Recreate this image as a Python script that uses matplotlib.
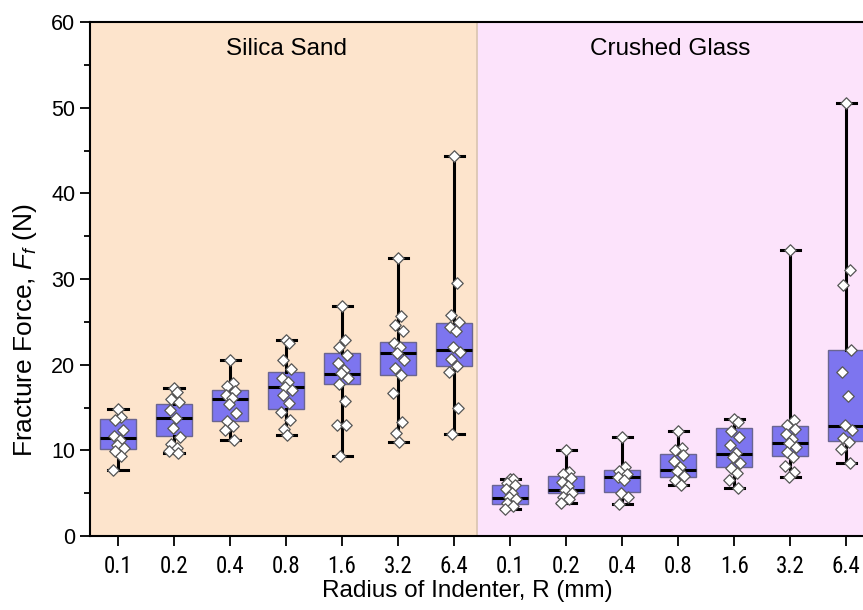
import numpy as np
import matplotlib
matplotlib.use('Agg')
import matplotlib.pyplot as plt
from matplotlib import font_manager
from matplotlib.patches import Rectangle

plt.rcParams['font.family'] = ['Liberation Sans', 'DejaVu Sans']
plt.rcParams['mathtext.fontset'] = 'custom'
plt.rcParams['mathtext.it'] = 'Liberation Sans:italic'
plt.rcParams['mathtext.rm'] = 'Liberation Sans'

# narrow face for the radius tick labels, if there is one
names = set(f.name for f in font_manager.fontManager.ttflist)
narrow = None
for cand in ['Liberation Sans Narrow', 'DejaVu Sans Condensed', 'Roboto Condensed',
             'Open Sans Condensed']:
    if cand in names:
        narrow = cand
        break

#%% Data
radius_labels = ['0.1', '0.2', '0.4', '0.8', '1.6', '3.2', '6.4']
groups = ['Silica Sand', 'Crushed Glass']

# box statistics, one entry per radius (N)
sand_wlo = [7.7, 9.7, 11.2, 11.8, 9.3, 11.0, 11.9]
sand_q1  = [10.2, 11.7, 13.4, 14.8, 17.8, 18.8, 19.8]
sand_med = [11.4, 13.8, 16.0, 17.4, 18.9, 21.4, 21.7]
sand_q3  = [13.7, 15.4, 17.0, 19.1, 21.4, 22.7, 24.9]
sand_whi = [14.8, 17.3, 20.5, 22.9, 26.8, 32.5, 44.3]

glass_wlo = [3.15, 3.8, 3.7, 6.0, 5.6, 6.85, 8.5]
glass_q1  = [3.7, 5.0, 5.1, 6.9, 8.0, 9.3, 11.1]
glass_med = [4.4, 5.4, 6.9, 7.7, 9.6, 10.9, 12.8]
glass_q3  = [5.9, 7.0, 7.7, 9.6, 12.6, 12.8, 21.7]
glass_whi = [6.7, 10.0, 11.6, 12.3, 13.6, 33.4, 50.5]

# individual measurements
sand_pts = [
    [14.8, 13.9, 13.5, 12.4, 11.7, 11.2, 10.6, 10.3, 9.9, 9.3, 7.7],
    [17.3, 16.8, 16.0, 15.6, 14.7, 13.8, 12.6, 11.6, 10.7, 10.3, 9.9, 9.7],
    [20.5, 17.9, 17.5, 16.9, 16.5, 16.1, 15.4, 14.4, 13.4, 12.8, 12.4, 11.2],
    [22.9, 22.5, 20.5, 19.5, 18.5, 18.0, 17.4, 17.0, 16.5, 15.5, 14.5, 13.5, 12.5, 11.8],
    [26.8, 22.9, 22.1, 21.1, 20.2, 19.4, 19.0, 18.4, 17.8, 15.8, 12.9, 13.0, 9.3],
    [32.5, 25.7, 24.6, 23.9, 22.5, 22.1, 21.4, 20.5, 19.6, 18.8, 16.7, 13.3, 12.0, 11.0],
    [44.3, 29.5, 25.8, 25.0, 24.4, 23.9, 22.1, 21.5, 20.7, 19.8, 19.2, 14.9, 11.9],
]
glass_pts = [
    [6.7, 6.6, 6.2, 5.9, 5.5, 5.0, 4.5, 4.3, 3.9, 3.5, 3.15],
    [10.0, 7.5, 7.2, 6.8, 6.3, 5.8, 5.4, 5.0, 4.6, 4.3, 3.8],
    [11.6, 8.0, 7.6, 7.2, 6.9, 6.5, 5.0, 4.5, 3.7],
    [12.3, 10.3, 10.0, 9.4, 8.7, 8.0, 7.6, 7.0, 6.5, 6.0],
    [13.6, 13.3, 12.3, 11.5, 10.6, 9.7, 9.2, 8.5, 7.9, 7.3, 6.5, 5.6],
    [33.4, 13.5, 13.0, 12.5, 11.9, 11.3, 10.9, 10.4, 9.8, 9.2, 8.2, 7.5, 6.85],
    [50.5, 31.0, 29.3, 21.7, 19.2, 16.4, 13.0, 12.4, 11.4, 11.0, 10.2, 8.5],
]

#%% Figure
fig = plt.figure(figsize=(8.63, 6.10), dpi=100)
ax = fig.add_axes([90/863, 74/610, 773/863, 514/610])

xmin, xmax, xsplit = 0.5, 14.3, 7.4
ax.add_patch(Rectangle((xmin, 0), xsplit - xmin, 60, facecolor='#fde4cc',
                       edgecolor='none', zorder=0))
ax.add_patch(Rectangle((xsplit, 0), xmax - xsplit, 60, facecolor='#fce3fb',
                       edgecolor='none', zorder=0))
ax.axvline(xsplit, color='#d9c4b0', lw=1.2, zorder=0.5)

wlo = sand_wlo + glass_wlo
q1 = sand_q1 + glass_q1
med = sand_med + glass_med
q3 = sand_q3 + glass_q3
whi = sand_whi + glass_whi
pts = sand_pts + glass_pts
pos = np.arange(1, len(med) + 1)

stats = []
for i in range(len(med)):
    stats.append(dict(whislo=wlo[i], q1=q1[i], med=med[i], q3=q3[i], whishi=whi[i]))

ax.bxp(stats, positions=pos, widths=0.64, patch_artist=True, showfliers=False,
       boxprops=dict(facecolor='#7d75ef', edgecolor='#6a6590', lw=1.0),
       medianprops=dict(color='black', lw=2.2),
       whiskerprops=dict(color='black', lw=2.2),
       capprops=dict(color='black', lw=2.2),
       capwidths=0.34, zorder=2)

# spread the points sideways in a fixed zig-zag
offs = [0.0, 0.06, -0.05, 0.09, -0.08, 0.03, -0.02, 0.1, -0.06, 0.05, -0.09, 0.07, -0.03, 0.01]
for p, vals in zip(pos, pts):
    xs = [p + offs[k % len(offs)] for k in range(len(vals))]
    ax.scatter(xs, vals, marker='D', s=34, facecolor='white', edgecolor='#555555',
               linewidths=0.9, zorder=3)

ax.text(4.0, 56.8, groups[0], ha='center', va='center', fontsize=17.5)
ax.text(10.85, 56.8, groups[1], ha='center', va='center', fontsize=17.5)

ax.set_xlim(xmin, xmax)
ax.set_ylim(0, 60)
ax.set_xticks(pos)
if narrow:
    ax.set_xticklabels(radius_labels * 2, family=narrow, fontsize=16.5)
else:
    ax.set_xticklabels(radius_labels * 2, fontsize=14.5)
ax.set_yticks(np.arange(0, 61, 10))
ax.set_yticks(np.arange(5, 60, 10), minor=True)
ax.tick_params(axis='y', which='major', labelsize=15.5)
ax.tick_params(axis='both', which='major', direction='out', length=7, width=1.3)
ax.tick_params(axis='y', which='minor', direction='out', length=4, width=1.3)
ax.tick_params(axis='x', pad=7)
ax.spines['right'].set_visible(False)
for s in ['left', 'bottom', 'top']:
    ax.spines[s].set_linewidth(1.5)

ax.set_xlabel('Radius of Indenter, R (mm)', fontsize=17.5, labelpad=3)
ax.xaxis.set_label_coords(0.488, -0.085)
ax.set_ylabel(r'Fracture Force, $F_f$ (N)', fontsize=19)
ax.yaxis.set_label_coords(-0.066, 0.40)

fig.savefig('out.png', dpi=100)
